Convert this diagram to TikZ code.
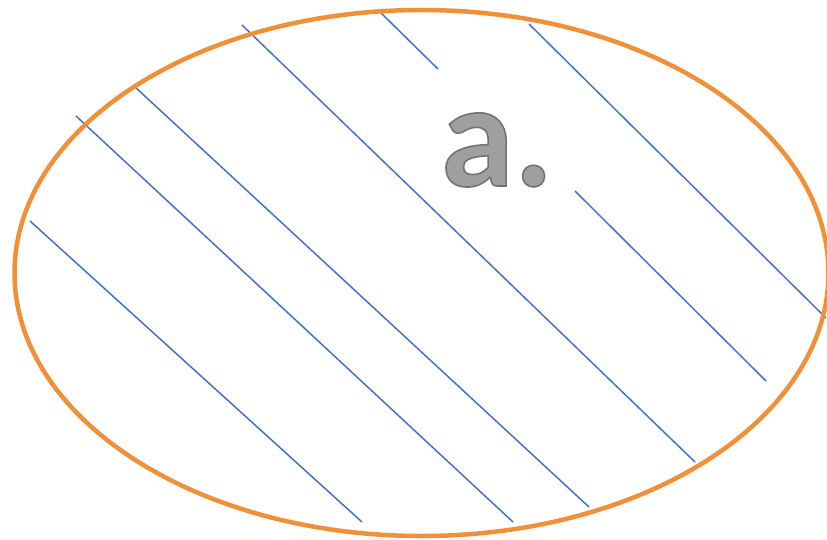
\documentclass[tikz,border=0pt]{standalone}
\usepackage{fontspec}
\newfontfamily\labelfont{Carlito}
\usetikzlibrary{positioning}
\definecolor{rimorange}{HTML}{F0913A}
\definecolor{hatchblue}{HTML}{4472C4}

\begin{document}
\begin{tikzpicture}[
    x=1pt, y=-1pt,
    rim/.style   = {draw=rimorange, line width=4.5pt},
    hatch/.style = {draw=hatchblue, line width=1.5pt},
    mark label/.style = {font=\labelfont\bfseries\fontsize{148}{148}\selectfont,
                         text=gray!75, anchor=base, inner sep=0pt},
]
\useasboundingbox (0,0) rectangle (827,540);

% Hatching lines
\foreach \xa/\ya/\xb/\yb [count=\i] in {30/221/362/522, 76/116/513/522,
    135/87/589/507, 242/25/695/462, 378/10/438/69, 529/24/826/318,
    575/191/766/381} {
  \coordinate (h\i a) at (\xa,\ya);
  \coordinate (h\i b) at (\xb,\yb);
  \draw[hatch] (h\i a) -- (h\i b);
}

% Outer ellipse
\coordinate (centre) at (421.5,273);
\draw[rim] (centre) ellipse [x radius=407, y radius=263];

% Label (grey fill, darker outline)
\node[mark label] (lbl) at (497,186)
  {\special{pdf:code 2 Tr 1.6 w 0.45 G}a.\special{pdf:code 0 Tr}};

\end{tikzpicture}
\end{document}
